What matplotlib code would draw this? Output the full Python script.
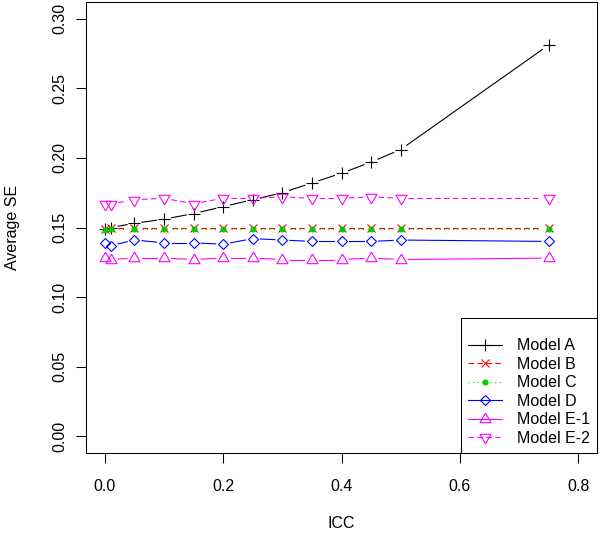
import matplotlib
matplotlib.use('Agg')
import matplotlib.pyplot as plt
from matplotlib.lines import Line2D
import numpy as np

plt.rcParams['font.family'] = ['Liberation Sans', 'DejaVu Sans']

# ICC values and average SE
icc = [0, 0.01, 0.05, 0.1, 0.15, 0.2, 0.25, 0.3, 0.35, 0.4, 0.45, 0.5, 0.75]
model_a = [0.149, 0.150, 0.153, 0.156, 0.160, 0.165, 0.170, 0.175, 0.182, 0.189, 0.197, 0.206, 0.281]
model_b = [0.149, 0.150, 0.150, 0.150, 0.150, 0.150, 0.150, 0.150, 0.150, 0.150, 0.150, 0.150, 0.150]
model_c = [0.148, 0.149, 0.149, 0.149, 0.149, 0.149, 0.149, 0.149, 0.149, 0.149, 0.149, 0.149, 0.149]
model_d = [0.139, 0.137, 0.141, 0.139, 0.139, 0.138, 0.142, 0.141, 0.140, 0.140, 0.140, 0.141, 0.140]
model_e1 = [0.128, 0.127, 0.128, 0.128, 0.127, 0.128, 0.128, 0.127, 0.127, 0.127, 0.128, 0.127, 0.128]
model_e2 = [0.167, 0.167, 0.170, 0.171, 0.167, 0.171, 0.171, 0.172, 0.171, 0.171, 0.172, 0.171, 0.171]

labels = ['Model A', 'Model B', 'Model C', 'Model D', 'Model E-1', 'Model E-2']
x_ticks = [0.0, 0.2, 0.4, 0.6, 0.8]
y_ticks = [0.00, 0.05, 0.10, 0.15, 0.20, 0.25, 0.30]

# equilateral triangles centred on their centroid, like R's pch 2 / 6
tri_up = [(0, 1), (-0.866, -0.5), (0.866, -0.5), (0, 1)]
tri_down = [(0, -1), (-0.866, 0.5), (0.866, 0.5), (0, -1)]

solid = '-'
dashed = (0, (5, 3))
dotted = (0, (1, 3))

styles = [
    # values, colour, linestyle, marker, markersize, filled
    (model_a, 'black', solid, '+', 8, False),
    (model_b, '#FF0000', dashed, 'x', 5.8, False),
    (model_c, '#00CD00', dotted, 'o', 3.6, True),
    (model_d, '#0000FF', solid, 'D', 5.2, False),
    (model_e1, '#FF00FF', solid, tri_up, 9.2, False),
    (model_e2, '#FF00FF', dashed, tri_down, 9.2, False),
]

fig = plt.figure(figsize=(6, 5.35), dpi=100)
ax = fig.add_axes([86 / 600, 1 - 453 / 535, 511 / 600, 451 / 535])
ax.set_xlim(-0.032, 0.832)
ax.set_ylim(-0.012, 0.312)

# R type="b": line segments stop short of each point
trans = ax.transData
inv = trans.inverted()
gap = 7.5  # pixels
lw = 0.8
handles = []
for vals, color, ls, marker, ms, filled in styles:
    pts = trans.transform(np.column_stack([icc, vals]))
    for p0, p1 in zip(pts[:-1], pts[1:]):
        d = p1 - p0
        length = np.hypot(d[0], d[1])
        if length <= 2 * gap:
            continue
        u = d / length
        seg = inv.transform(np.array([p0 + u * gap, p1 - u * gap]))
        ax.plot(seg[:, 0], seg[:, 1], color=color, linestyle=ls, linewidth=lw)
    mfc = color if filled else 'none'
    ax.plot(icc, vals, linestyle='none', marker=marker, markersize=ms,
            markeredgecolor=color, markerfacecolor=mfc, markeredgewidth=0.8)
    handles.append(Line2D([], [], color=color, linestyle=ls, linewidth=lw,
                          marker=marker, markersize=ms, markeredgecolor=color,
                          markerfacecolor=mfc, markeredgewidth=0.8))

ax.set_xticks(x_ticks)
ax.set_xticklabels(['%.1f' % v for v in x_ticks])
ax.set_yticks(y_ticks)
ax.set_yticklabels(['%.2f' % v for v in y_ticks])
ax.tick_params(axis='both', direction='out', length=7.2, width=0.75,
               labelsize=11.5, colors='black')
ax.tick_params(axis='x', pad=11.5)
ax.tick_params(axis='y', pad=6.5)
for lab in ax.get_yticklabels():
    lab.set_rotation(90)
    lab.set_va('center')
    lab.set_ha('right')
for sp in ax.spines.values():
    sp.set_linewidth(0.75)
    sp.set_color('black')

ax.set_xlabel('ICC', fontsize=11.5, labelpad=16)
ax.set_ylabel('Average SE', fontsize=11.5, labelpad=23)

leg = ax.legend(handles, labels, loc='lower right', borderaxespad=0,
                fancybox=False, edgecolor='black', framealpha=1,
                fontsize=11.5, handlelength=2.1, handletextpad=0.95,
                labelspacing=0.22, borderpad=0.45, title=' ', title_fontsize=8,
                numpoints=1)
leg.get_frame().set_linewidth(0.75)

fig.savefig('out.png', dpi=100)
